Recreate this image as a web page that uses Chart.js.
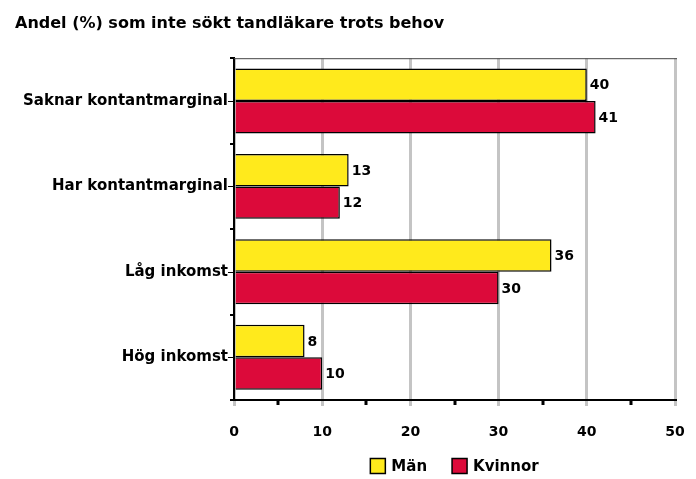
<!DOCTYPE html>
<html>
<head>
<meta charset="utf-8">
<script src="https://cdn.jsdelivr.net/npm/chart.js@4"></script>
<style>
  body { margin: 0; background: #fff; }
  #wrap { width: 696px; height: 479px; }
</style>
</head>
<body>
<div id="wrap"><canvas id="myChartCanvas" width="696" height="479"></canvas></div>
<script>
let titleText = 'Andel (%) som inte sökt tandläkare trots behov';
let categories = ['Saknar kontantmarginal', 'Har kontantmarginal', 'Låg inkomst', 'Hög inkomst'];
let menValues = [40, 13, 36, 8];
let womenValues = [41, 12, 30, 10];
let seriesNames = ['Män', 'Kvinnor'];
let xTicks = [0, 10, 20, 30, 40, 50];

let fontFamily = '"DejaVu Sans", Verdana, sans-serif';
let labelFont = 'bold 14px ' + fontFamily;
let legendFont = 'bold 15px ' + fontFamily;

// numbers at the end of each bar, frame, minor ticks and the legend
let extras = {
    id: 'extras',
    afterDatasetsDraw(chart) {
        let c = chart.ctx;
        let area = chart.chartArea;
        let xs = chart.scales.x;
        c.save();
        // top frame line
        c.strokeStyle = '#444';
        c.lineWidth = 1;
        c.beginPath();
        c.moveTo(area.left, area.top + 0.5);
        c.lineTo(area.right + 2, area.top + 0.5);
        c.stroke();
        // minor ticks on x axis
        c.strokeStyle = '#000';
        c.lineWidth = 3;
        for (let v = 5; v < 50; v += 10) {
            let px = Math.round(xs.getPixelForValue(v));
            c.beginPath();
            c.moveTo(px, area.bottom);
            c.lineTo(px, area.bottom + 5);
            c.stroke();
        }
        // ticks at category centres
        let ys = chart.scales.y;
        c.lineWidth = 1;
        for (let i = 0; i < categories.length; i++) {
            let py = Math.round(ys.getPixelForValue(i)) + 0.5;
            c.beginPath();
            c.moveTo(area.left - 6, py);
            c.lineTo(area.left, py);
            c.stroke();
        }
        // value labels
        c.font = labelFont;
        c.fillStyle = '#000';
        c.textBaseline = 'middle';
        c.textAlign = 'left';
        chart.data.datasets.forEach((ds, di) => {
            chart.getDatasetMeta(di).data.forEach((bar, i) => {
                c.fillText(ds.data[i], bar.x + 3, bar.y + 1);
            });
        });
        // legend under the plot
        c.font = legendFont;
        let box = 15, gap = 6, between = 25;
        let widths = chart.data.datasets.map(ds => c.measureText(ds.label).width);
        let total = 0;
        widths.forEach((w, i) => { total += box + gap + w + (i > 0 ? between : 0); });
        let lx = (area.left + area.right) / 2 - total / 2;
        let ly = area.bottom + 66;
        chart.data.datasets.forEach((ds, i) => {
            c.fillStyle = ds.backgroundColor;
            c.fillRect(lx, ly - box / 2, box, box);
            c.strokeStyle = '#000';
            c.lineWidth = 1.5;
            c.strokeRect(lx, ly - box / 2, box, box);
            c.fillStyle = '#000';
            c.fillText(ds.label, lx + box + gap, ly + 1);
            lx += box + gap + widths[i] + between;
        });
        c.restore();
    }
};

let ctx = document.getElementById('myChartCanvas').getContext('2d');
let chart = new Chart(ctx, {
    type: 'bar',
    data: {
        labels: categories,
        datasets: [{
            label: seriesNames[0],
            data: menValues,
            backgroundColor: '#FFEA1C',
            borderColor: '#000',
            borderWidth: 1.5,
            categoryPercentage: 0.76,
            barPercentage: 1.0
        }, {
            label: seriesNames[1],
            data: womenValues,
            backgroundColor: '#DC0A3A',
            borderColor: '#000',
            borderWidth: 1.5,
            categoryPercentage: 0.76,
            barPercentage: 1.0
        }]
    },
    options: {
        indexAxis: 'y',
        responsive: false,
        animation: false,
        layout: {
            padding: { left: 15, right: 21, top: 0, bottom: 25 }
        },
        plugins: {
            title: {
                display: true,
                text: titleText,
                align: 'start',
                color: '#000',
                font: { family: fontFamily, size: 16, weight: 'bold' },
                padding: { top: 14, bottom: 25 }
            },
            legend: { display: false },
            tooltip: { enabled: false }
        },
        scales: {
            x: {
                min: 0,
                max: 50,
                afterBuildTicks: function (scale) {
                    scale.ticks = xTicks.map(v => ({ value: v }));
                },
                afterFit: function (scale) {
                    scale.height = 54;
                    scale.paddingLeft = 0;
                    scale.paddingRight = 0;
                },
                grid: {
                    color: '#c4c4c4',
                    lineWidth: 3,
                    tickLength: 6,
                    tickColor: '#c4c4c4'
                },
                border: { color: '#000', width: 2 },
                ticks: {
                    color: '#000',
                    padding: 18,
                    font: { family: fontFamily, size: 14, weight: 'bold' }
                }
            },
            y: {
                afterFit: function (scale) {
                    scale.width = 219;
                },
                grid: {
                    drawOnChartArea: false,
                    offset: true,
                    color: '#000',
                    lineWidth: 2,
                    tickLength: 4
                },
                border: { color: '#000', width: 2 },
                ticks: {
                    color: '#000',
                    padding: 2,
                    font: { family: fontFamily, size: 15, weight: 'bold' }
                }
            }
        }
    },
    plugins: [extras]
});
</script>
</body>
</html>
